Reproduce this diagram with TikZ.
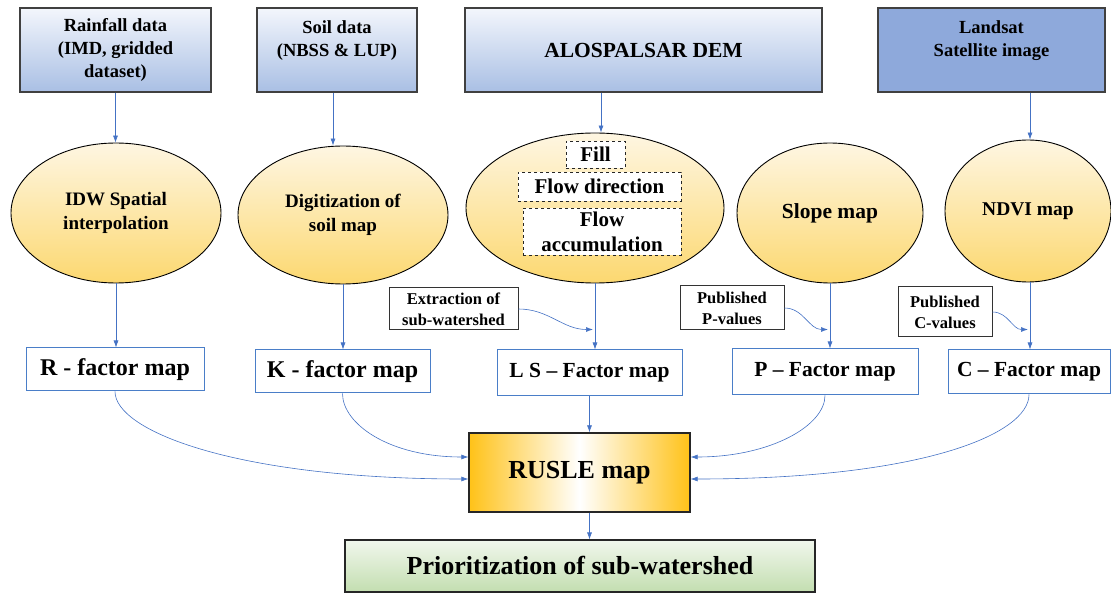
\documentclass[tikz,border=0pt]{standalone}
\usepackage{fontspec}
\setmainfont{Liberation Serif}
\usetikzlibrary{shapes.geometric,arrows.meta}

\definecolor{boxtop}{HTML}{F3F6FC}
\definecolor{boxbot}{HTML}{A9BFE4}
\definecolor{satblue}{HTML}{8EA9DB}
\definecolor{elltop}{HTML}{FEF6E2}
\definecolor{ellbot}{HTML}{FCD870}
\definecolor{mapblue}{HTML}{4A7EC8}
\definecolor{arrblue}{HTML}{4472C4}
\definecolor{rusgold}{HTML}{FFC218}
\definecolor{pritop}{HTML}{F1F7ED}
\definecolor{pribot}{HTML}{C3DEB0}

\begin{document}
\begin{tikzpicture}[x=1pt,y=-1pt,
	data/.style={draw=black!75,line width=1.1pt,top color=boxtop,bottom color=boxbot,align=center,inner sep=0pt,font=\fontsize{18.5}{23}\selectfont\bfseries},
	proc/.style={ellipse,draw=black,line width=0.9pt,top color=elltop,bottom color=ellbot,align=center,inner sep=0pt,font=\fontsize{19}{24}\selectfont\bfseries},
	substep/.style={draw=black!85,dashed,fill=white,line width=0.9pt,align=center,inner sep=0pt,font=\fontsize{21}{25}\selectfont\bfseries},
	factor/.style={draw=mapblue,line width=1pt,fill=white,inner sep=0pt,font=\fontsize{21.5}{26}\selectfont\bfseries},
	extra/.style={draw=black!80,line width=1pt,fill=white,align=center,inner sep=0pt,font=\fontsize{16.5}{21}\selectfont\bfseries},
	arr/.style={draw=arrblue,line width=0.6pt,-{Latex[length=7pt,width=5pt]}}]
	\useasboundingbox (0,0) rectangle (1111,593);

	% input data
	\node[data,minimum width=191,minimum height=84] (rain) at (115.5,50) {Rainfall data\\(IMD, gridded\\dataset)};
	\node[data,minimum width=160,minimum height=84] (soil) at (337,50) {Soil data\\(NBSS \& LUP)\\\mbox{}};
	\node[data,minimum width=357,minimum height=84,font=\fontsize{21.5}{26}\selectfont\bfseries] (dem) at (643.5,50) {ALOSPALSAR DEM};
	\node[data,minimum width=227,minimum height=84,fill=satblue,top color=satblue,bottom color=satblue] (sat) at (991.5,50) {Landsat\\Satellite image\\\mbox{}};

	% processing
	\node[proc,minimum width=210,minimum height=140] (idw) at (116,213) {IDW Spatial\\interpolation};
	\node[proc,minimum width=210,minimum height=138] (dig) at (343,215) {Digitization of\\soil map};
	\node[proc,minimum width=258,minimum height=150] (flow) at (595,208) {};
	\node[proc,minimum width=186,minimum height=140,font=\fontsize{21.5}{26}\selectfont\bfseries] (slope) at (830,213) {Slope map};
	\node[proc,minimum width=166,minimum height=142,font=\fontsize{19.5}{24}\selectfont\bfseries] (ndvi) at (1028,211) {NDVI map};

	\node[substep,minimum width=59,minimum height=27] (fill) at (595.5,154.5) {Fill};
	\node[substep,minimum width=163,minimum height=29] (fdir) at (599.5,186.5) {Flow direction};
	\node[substep,minimum width=158,minimum height=47] (facc) at (602,231.5) {Flow\\accumulation};

	% extra inputs
	\node[extra,minimum width=129,minimum height=42] (ext) at (453.5,309) {Extraction of\\sub-watershed};
	\node[extra,minimum width=104,minimum height=44] (pval) at (732,308) {Published\\P-values};
	\node[extra,minimum width=94,minimum height=50] (cval) at (945,312) {Published\\C-values};

	% factor maps
	\node[factor,minimum width=178,minimum height=43,font=\fontsize{24}{28}\selectfont\bfseries] (rf) at (115,369.5) {R - factor map};
	\node[factor,minimum width=175,minimum height=43,font=\fontsize{24}{28}\selectfont\bfseries] (kf) at (342.5,371.5) {K - factor map};
	\node[factor,minimum width=185,minimum height=46] (lsf) at (589.5,373) {L S -- Factor map};
	\node[factor,minimum width=186,minimum height=46] (pf) at (825,372) {P -- Factor map};
	\node[factor,minimum width=162,minimum height=44] (cf) at (1029,372) {C -- Factor map};

	% results
	\node[draw=black!85,line width=1.3pt,left color=rusgold,right color=rusgold,middle color=white,minimum width=221,minimum height=79,inner sep=0pt,font=\fontsize{26}{30}\selectfont\bfseries] (rusle) at (579.5,472.5) {RUSLE map};
	\node[draw=black!85,line width=1.1pt,top color=pritop,bottom color=pribot,minimum width=470,minimum height=52,inner sep=0pt,font=\fontsize{26}{30}\selectfont\bfseries] (prio) at (580,566) {Prioritization of sub-watershed};

	% arrows
	\coordinate (demout) at ([xshift=6pt]flow.north);
	\coordinate (satout) at ([xshift=2pt]ndvi.north);
	\draw[arr] (rain.south) -- (rain.south |- idw.north);
	\draw[arr] ([xshift=-4pt]soil.south) -- ([xshift=-10pt]dig.north);
	\draw[arr] (demout |- dem.south) -- (demout);
	\draw[arr] (satout |- sat.south) -- (satout);

	\draw[arr] (idw.south) -- (idw.south |- rf.north);
	\draw[arr] (dig.south) -- (dig.south |- kf.north);
	\draw[arr] (flow.south) -- (flow.south |- lsf.north);
	\draw[arr] (slope.south) -- (slope.south |- pf.north);
	\draw[arr] (satout |- ndvi.south) -- (satout |- cf.north);

	\path (flow.south |- lsf.north) ++(-2,-20) coordinate (lsin);
	\path (slope.south |- pf.north) ++(-2,-19) coordinate (pin);
	\path (satout |- cf.north) ++(-2,-20) coordinate (cin);
	\draw[arr] (ext.east) to[out=0,in=180] (lsin);
	\draw[arr] (pval.east) to[out=0,in=180] (pin);
	\draw[arr] (cval.east) to[out=0,in=180] (cin);

	\draw[arr] (rf.south) .. controls +(0,40) and +(-230,0) .. ([yshift=-6.5pt]rusle.west);
	\draw[arr] (kf.south) .. controls +(0,30) and +(-80,0) .. ([yshift=15.5pt]rusle.west);
	\draw[arr] (pf.south) .. controls +(0,30) and +(80,0) .. ([yshift=15.5pt]rusle.east);
	\draw[arr] (cf.south) .. controls +(0,40) and +(230,0) .. ([yshift=-6.5pt]rusle.east);
	\draw[arr] (lsf.south) -- (lsf.south |- rusle.north);
	\draw[arr] (lsf.south |- rusle.south) -- (lsf.south |- prio.north);
\end{tikzpicture}
\end{document}
